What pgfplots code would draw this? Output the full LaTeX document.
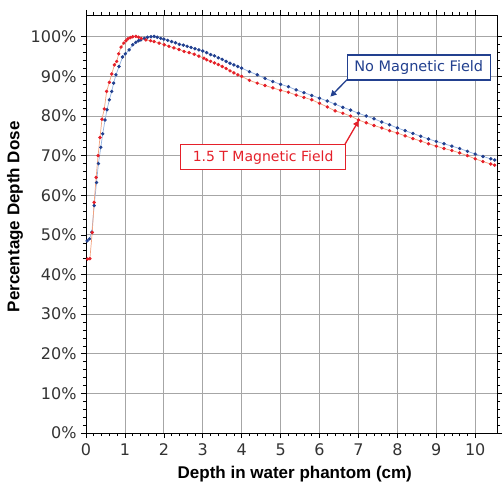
\documentclass[border=0pt]{standalone}
\usepackage{fontspec}
\setmainfont{DejaVu Sans}
\newfontfamily\labelfont{Liberation Sans}
\usepackage{pgfplots}
\pgfplotsset{compat=1.18}
\usetikzlibrary{arrows.meta}
\definecolor{nofield}{HTML}{22408F}
\definecolor{nofieldline}{HTML}{92B2E0}
\definecolor{field}{HTML}{E5202A}
\definecolor{fieldline}{HTML}{F3A27E}
\definecolor{ticktext}{HTML}{333333}

% depth (cm), percentage depth dose (%)
\pgfplotstableread{
x y
0.03 48.5
0.09 49.0
0.15 50.7
0.21 57.4
0.27 63.2
0.32 68.0
0.38 72.1
0.43 75.5
0.49 79.0
0.54 81.6
0.60 84.1
0.66 86.2
0.71 88.3
0.77 90.4
0.85 92.5
0.94 94.9
1.01 95.7
1.11 96.7
1.20 98.0
1.28 98.6
1.35 99.0
1.41 99.2
1.50 99.6
1.58 99.9
1.67 100.0
1.75 100.1
1.83 99.9
1.92 99.6
2.00 99.4
2.10 99.1
2.20 98.8
2.30 98.5
2.40 98.1
2.50 97.9
2.60 97.6
2.70 97.3
2.80 97.0
2.90 96.7
3.00 96.4
3.10 96.0
3.20 95.5
3.30 95.2
3.40 94.7
3.50 94.3
3.60 93.8
3.70 93.3
3.80 92.9
3.90 92.5
4.00 92.1
4.20 91.2
4.40 90.4
4.60 89.5
4.80 88.7
5.00 88.0
5.20 87.4
5.40 86.6
5.60 85.9
5.80 85.2
6.00 84.5
6.20 83.8
6.40 83.0
6.60 82.2
6.80 81.5
7.00 80.7
7.20 80.0
7.40 79.3
7.60 78.5
7.80 77.8
8.00 77.0
8.20 76.3
8.40 75.6
8.60 74.9
8.80 74.2
9.00 73.6
9.20 73.0
9.40 72.4
9.60 71.8
9.80 71.1
10.00 70.4
10.20 69.8
10.40 69.2
10.50 68.9
}\nofieldtable

\pgfplotstableread{
x y
0.04 43.9
0.10 44.0
0.16 50.6
0.21 58.2
0.26 64.5
0.31 70.0
0.36 74.6
0.41 79.2
0.47 81.8
0.53 86.2
0.60 88.5
0.66 90.6
0.73 92.9
0.79 93.8
0.84 95.7
0.90 97.4
0.97 98.4
1.03 99.0
1.08 99.5
1.14 99.8
1.20 100.0
1.28 100.1
1.35 99.9
1.42 99.6
1.54 99.2
1.66 99.0
1.75 98.8
1.88 98.4
2.01 98.0
2.13 97.6
2.26 97.2
2.39 96.8
2.52 96.3
2.65 96.0
2.78 95.6
2.90 95.1
3.03 94.6
3.10 94.2
3.20 93.8
3.30 93.4
3.40 93.0
3.50 92.5
3.60 92.0
3.70 91.4
3.80 90.9
3.90 90.4
4.00 90.0
4.20 89.0
4.40 88.3
4.60 87.7
4.80 87.1
5.00 86.5
5.20 86.0
5.40 85.3
5.60 84.7
5.80 84.1
6.00 83.2
6.20 82.3
6.40 81.3
6.60 80.7
6.80 80.0
7.00 79.0
7.20 78.3
7.40 77.6
7.60 77.0
7.80 76.3
8.00 75.7
8.20 75.0
8.40 74.3
8.60 73.7
8.80 73.0
9.00 72.4
9.20 71.8
9.40 71.3
9.60 70.7
9.80 70.0
10.00 69.2
10.20 68.5
10.40 67.9
10.50 67.6
}\fieldtable

\begin{document}
\begin{tikzpicture}
\begin{axis}[
  width=411pt, height=418pt, scale only axis,
  xmin=0, xmax=10.56,
  ymin=0, ymax=105.5,
  xtick={0,1,...,10},
  xticklabels={0,1,2,3,4,5,6,7,8,9,10},
  ytick={0,10,...,100},
  yticklabels={0\%,10\%,20\%,30\%,40\%,50\%,60\%,70\%,80\%,90\%,100\%},
  minor x tick num=4,
  minor y tick num=4,
  tick align=outside,
  major tick length=5pt,
  minor tick length=3pt,
  tick style={black, line width=0.6pt},
  axis line style={black, line width=0.9pt},
  grid=major,
  major grid style={gray!70, line width=0.8pt},
  ticklabel style={font=\fontsize{16}{18}\selectfont, text=ticktext},
  xticklabel style={yshift=-2pt},
  yticklabel style={xshift=-1pt},
  xlabel={Depth in water phantom (cm)},
  ylabel={Percentage Depth Dose},
  label style={font=\labelfont\bfseries\fontsize{17}{19}\selectfont},
  xlabel style={at={([yshift=-45pt]rel axis cs:0.508,0)}, anchor=base},
  ylabel style={at={([xshift=-71pt]rel axis cs:0,0.517)}, anchor=center},
  clip=false,
]
\addplot[color=nofieldline, line width=0.7pt, mark=*, mark size=1.35pt,
  mark options={fill=nofield, draw=nofield}] table[x=x, y=y] {\nofieldtable};
\addplot[color=fieldline, line width=0.7pt, mark=*, mark size=1.35pt,
  mark options={fill=field, draw=field}] table[x=x, y=y] {\fieldtable};

\node[draw=nofield, line width=1.5pt, fill=white, text=nofield,
  font=\fontsize{14.5}{16}\selectfont, minimum width=143pt, minimum height=25pt, inner sep=2pt]
  at (axis cs:8.55,92.3) {No Magnetic Field};
\draw[-{Triangle[length=6pt,width=6pt]}, nofield, line width=1.3pt]
  (axis cs:6.71,89.2) -- (axis cs:6.28,84.9);

\node[draw=field, line width=1.5pt, fill=white, text=field,
  font=\fontsize{14}{16}\selectfont, minimum width=165pt, minimum height=25pt, inner sep=2pt]
  at (axis cs:4.55,69.6) {1.5 T Magnetic Field};
\draw[-{Triangle[length=6pt,width=6pt]}, field, line width=1.3pt]
  (axis cs:6.65,72.8) -- (axis cs:7.01,78.9);

% margins as in the reference
\path (rel axis cs:0,1) ++(-86pt,15pt);
\path (rel axis cs:1,0) ++(6pt,-51pt);
\end{axis}
\end{tikzpicture}
\end{document}
